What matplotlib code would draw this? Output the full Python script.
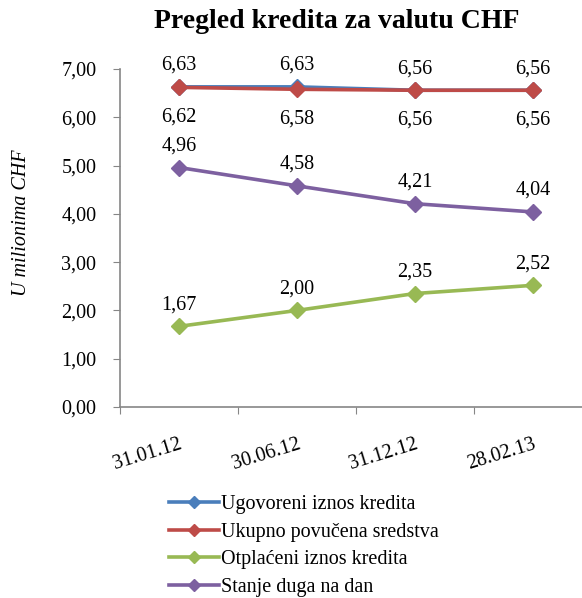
import matplotlib
matplotlib.use("Agg")
import matplotlib.pyplot as plt
from matplotlib.lines import Line2D

plt.rcParams['font.family'] = ['Liberation Serif', 'DejaVu Serif']

dates = ["31.01.12", "30.06.12", "31.12.12", "28.02.13"]
ugovoreni = [6.63, 6.63, 6.56, 6.56]
povucena = [6.62, 6.58, 6.56, 6.56]
otplaceni = [1.67, 2.00, 2.35, 2.52]
stanje = [4.96, 4.58, 4.21, 4.04]

series = [
    ("Ugovoreni iznos kredita", ugovoreni, "#4A7EBB", "above"),
    ("Ukupno povučena sredstva", povucena, "#BE4B48", "below"),
    ("Otplaćeni iznos kredita", otplaceni, "#98B954", "above"),
    ("Stanje duga na dan", stanje, "#7D60A0", "above"),
]

FS = 14.5
W, H = 582, 598
fig = plt.figure(figsize=(W / 100, H / 100), dpi=100)
left, right = 120 / W, 592 / W
bottom, top = (H - 407) / H, (H - 69) / H
ax = fig.add_axes([left, bottom, right - left, top - bottom])

x = list(range(len(dates)))
for name, vals, col, pos in series:
    ax.plot(x, vals, color=col, lw=2.6, marker="D", ms=8, mec=col, mfc=col,
            label=name, clip_on=False)
    for xi, v in zip(x, vals):
        lab = f"{v:.2f}".replace(".", ",")
        dy = 15.5 if pos == "above" else -21.5
        ax.annotate(lab, (xi, v), xytext=(0, dy), textcoords="offset points",
                    ha="center", va="center", fontsize=FS)

ax.set_xlim(-0.5, 3.5)
ax.set_ylim(0, 7)
ax.set_yticks([0, 1, 2, 3, 4, 5, 6, 7])
ax.set_yticklabels([f"{v:.2f}".replace(".", ",") for v in range(8)], fontsize=FS)
ax.set_xticks([-0.5, 0.5, 1.5, 2.5])
ax.set_xticklabels([])
ax.set_xticks(x, minor=True)
ax.set_xticklabels(dates, minor=True, rotation=17, fontsize=FS,
                   ha="right", va="top", rotation_mode="anchor")
ax.tick_params(axis="x", which="minor", length=0, pad=20)
ax.tick_params(axis="x", which="major", length=5, color="#868686", direction="out")
ax.tick_params(axis="y", length=5, color="#868686", direction="out", pad=12)

for s in ("top", "right"):
    ax.spines[s].set_visible(False)
for s in ("left", "bottom"):
    ax.spines[s].set_color("#868686")
    ax.spines[s].set_linewidth(1.2)

ax.set_ylabel("U milionima CHF", fontsize=FS, style="italic")
ax.yaxis.set_label_coords((31 - 120) / (592 - 120), (407 - 223) / (407 - 69))
fig.text(337 / W, 1 - 22 / H, "Pregled kredita za valutu CHF",
         ha="center", va="center", fontsize=20, fontweight="bold")

handles = [Line2D([0], [0], color=c, lw=2.6, marker="D", ms=6, mec=c, mfc=c)
           for _, _, c, _ in series]
fig.legend(handles, [s[0] for s in series], loc="upper left",
           bbox_to_anchor=(159 / W, 1 - 485 / H), frameon=False, fontsize=FS,
           handlelength=2.5, handletextpad=0.1, labelspacing=0.42, borderpad=0)

fig.savefig("out.png", dpi=100)
